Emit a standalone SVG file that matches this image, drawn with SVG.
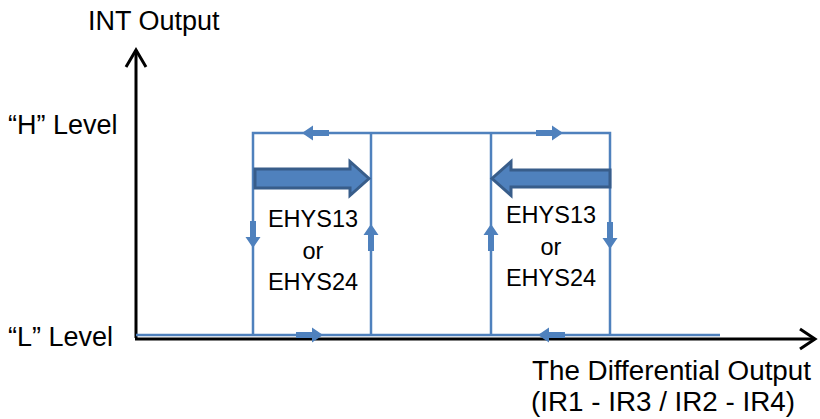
<svg xmlns="http://www.w3.org/2000/svg" width="820" height="419" viewBox="0 0 820 419">
<defs>
<style>
.lbl{font-family:"Liberation Sans",Arial,sans-serif;font-size:27px;fill:#000}
.hys{font-family:"Liberation Sans",Arial,sans-serif;font-size:23.5px;fill:#000;text-anchor:middle}
.ax{stroke:#000;stroke-width:3;fill:none}
.bl{stroke:#4F81BD;stroke-width:2.5;fill:none}
.sa{fill:#4F81BD}
.big{fill:#4F81BD;stroke:#385D8A;stroke-width:3;stroke-linejoin:miter}
</style>
<path id="sa" d="M0,0 L-11,-7.5 L-11,-3 L-27,-3 L-27,3 L-11,3 L-11,7.5 Z"/>
</defs>
<rect width="820" height="419" fill="#fff"/>
<g id="axes">
<path class="ax" d="M136,338 L136,50"/>
<path class="ax" d="M126,67 L136,50 L146,67"/>
<path class="ax" d="M135,339 L815,339"/>
<path class="ax" d="M800,329 L815,339 L800,349"/>
</g>
<g id="labels">
<text class="lbl" x="88" y="30">INT Output</text>
<text class="lbl" x="8" y="134">“H” Level</text>
<text class="lbl" x="8" y="346">“L” Level</text>
<text class="lbl" x="532" y="380" textLength="279" lengthAdjust="spacingAndGlyphs">The Differential Output</text>
<text class="lbl" x="531" y="411" textLength="264" lengthAdjust="spacingAndGlyphs">(IR1 - IR3 / IR2 - IR4)</text>
</g>
<g id="connectors">
<path class="bl" d="M136,335 L720,335"/>
<path class="bl" d="M253,335 L253,133 L610,133 L610,335"/>
<path class="bl" d="M371,133 L371,335"/>
<path class="bl" d="M491,133 L491,335"/>
<use href="#sa" class="sa" transform="translate(302,133) rotate(180)"/>
<use href="#sa" class="sa" transform="translate(563,133)"/>
<use href="#sa" class="sa" transform="translate(253,248) rotate(90)"/>
<use href="#sa" class="sa" transform="translate(371,224) rotate(-90)"/>
<use href="#sa" class="sa" transform="translate(323,335)"/>
<use href="#sa" class="sa" transform="translate(491,224) rotate(-90)"/>
<use href="#sa" class="sa" transform="translate(610,249) rotate(90)"/>
<use href="#sa" class="sa" transform="translate(538,335) rotate(180)"/>
</g>
<g id="hys-left">
<path class="big" d="M255,169 L350,169 L350,161.5 L369,178.5 L350,195.5 L350,188 L255,188 Z"/>
<text class="hys" x="313" y="227">EHYS13</text>
<text class="hys" x="313" y="259">or</text>
<text class="hys" x="313" y="290">EHYS24</text>
</g>
<g id="hys-right">
<path class="big" d="M610,170 L511,170 L511,161.5 L492,178.5 L511,195.5 L511,187 L610,187 Z"/>
<text class="hys" x="551" y="223">EHYS13</text>
<text class="hys" x="551" y="255">or</text>
<text class="hys" x="551" y="286">EHYS24</text>
</g>
</svg>
